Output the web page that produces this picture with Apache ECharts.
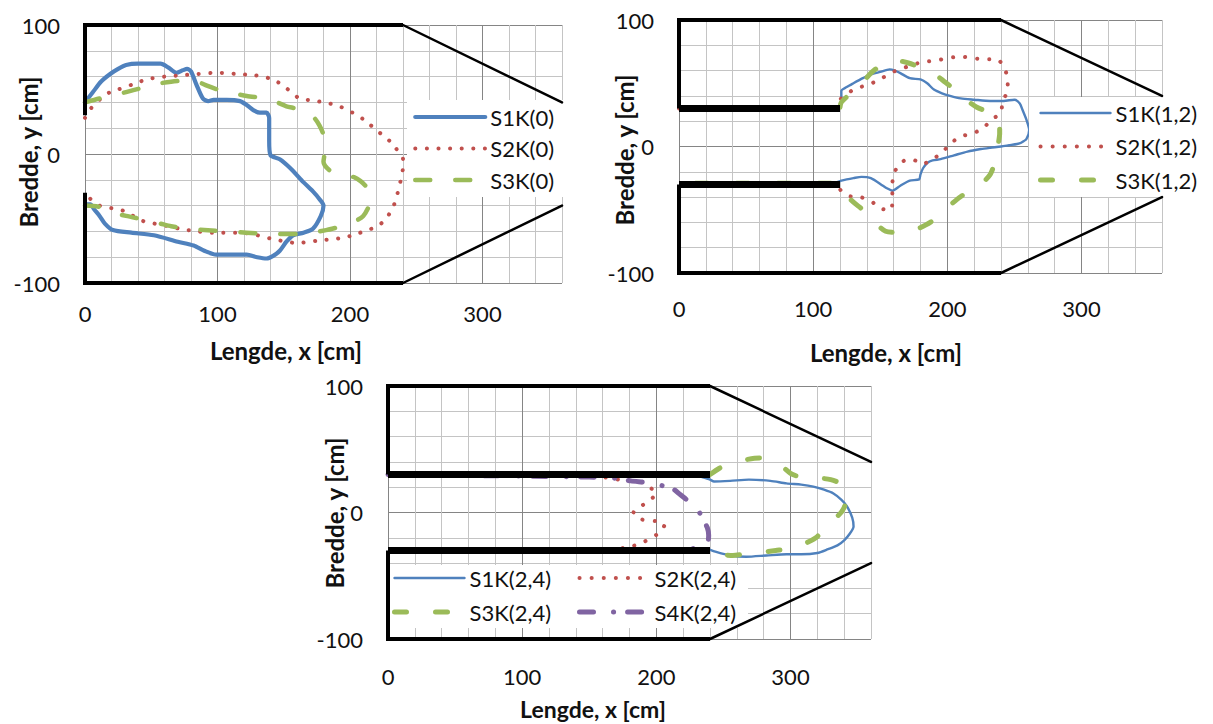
<!DOCTYPE html>
<html><head><meta charset="utf-8">
<script src="https://cdn.jsdelivr.net/npm/echarts@6/dist/echarts.min.js"></script>
<style>html,body{margin:0;padding:0;background:#fff}#c{width:1213px;height:724px}</style>
</head><body><div id="c"></div>
<script>
// ---- tick labels ----
const xTicks = [0, 100, 200, 300];
const yTicks = [-100, 0, 100];

// ---- panel 1 : S?K(0) ----
const s1k0 = [[0,40],[6,48],[12,56],[19,62],[25,66],[31,69],[40,70],[50,70],[57,70],[63,67],[69,63],[74,65],[77,66],[80,64],[84,54],[89,43],[93,41],[97,42],[107,42],[117,41],[122,38],[127,34],[132,32],[137,32],[139,28],[139,10],[140,-1],[147,-4],[155,-11],[165,-22],[172,-29],[177,-35],[180,-40],[178,-48],[172,-58],[165,-61],[157,-63],[152,-68],[147,-75],[142,-79],[137,-81],[130,-80],[122,-78],[110,-78],[99,-78],[90,-75],[82,-71],[70,-68],[52,-63],[35,-61],[21,-59],[15,-54],[11,-48],[7,-43],[4,-39],[0,-39]];
const s2k0 = [[0,28],[5,36],[12,43],[19,48],[28,51],[36,54],[47,58],[60,60],[72,61],[85,62],[99,63],[115,62],[128,61],[135,60],[145,56],[152,51],[158,46],[162,43],[175,41],[185,39],[192,37],[202,32],[210,27],[216,22],[223,16],[230,10],[235,4],[240,-4],[240,-10],[239,-17],[236,-30],[233,-40],[228,-49],[221,-56],[213,-59],[205,-62],[195,-65],[177,-67],[160,-69],[142,-66],[130,-63],[117,-61],[97,-61],[85,-60],[72,-58],[58,-55],[44,-52],[29,-44],[20,-42],[11,-40],[3,-34],[0,-33]];
const s3k0 = [[0,40],[11,43],[20,45],[31,48],[42,51],[52,54],[65,56],[77,57],[85,56],[92,53],[100,50],[107,48],[122,45],[137,43],[145,40],[152,37],[160,35],[167,32],[173,28],[177,22],[180,15],[181,9],[181,2],[180,-6],[185,-13],[195,-16],[203,-18],[208,-21],[212,-25],[215,-30],[215,-37],[210,-48],[200,-54],[190,-57],[182,-59],[162,-62],[137,-62],[122,-61],[107,-60],[90,-59],[77,-58],[65,-56],[57,-54],[45,-51],[31,-48],[20,-45],[11,-41],[0,-40]];

// ---- panel 2 : S?K(1,2) ----
const s1k12 = [[120,32],[121,37],[121,44],[125,47],[130,50],[137,54],[143,57],[150,59],[157,61],[161,60],[165,58],[172,54],[180,53],[185,50],[190,45],[196,42],[202,40],[210,38],[220,37],[232,36],[242,36],[250,37],[254,34],[256,29],[259,21],[261,13],[259,6],[255,3],[252,2],[246,1],[240,0],[232,-1],[225,-2],[215,-4],[205,-7],[195,-10],[189,-11],[185,-13],[182,-17],[180,-22],[179,-26],[172,-27],[165,-31],[159,-35],[155,-33],[152,-31],[143,-25],[136,-24],[130,-25],[125,-26],[121,-27],[115,-29],[110,-30]];
const s2k12 = [[0,30],[118,30],[120,37],[125,41],[130,45],[141,49],[150,53],[157,58],[165,61],[175,65],[184,67],[192,68],[201,70],[210,71],[218,70],[227,69],[237,69],[242,63],[245,53],[245,45],[241,35],[240,27],[233,21],[226,14],[218,10],[210,8],[202,2],[196,-5],[189,-10],[181,-14],[176,-11],[172,-10],[165,-13],[160,-22],[159,-31],[159,-41],[158,-50],[150,-49],[143,-43],[135,-40],[126,-39],[120,-34]];
const s3k12 = [[120,31],[121,35],[130,44],[137,51],[143,58],[150,64],[154,66],[162,68],[171,66],[184,61],[191,57],[197,52],[203,47],[208,41],[215,36],[222,31],[229,28],[235,24],[239,17],[239,10],[238,2],[237,-5],[235,-14],[232,-22],[225,-30],[215,-36],[207,-42],[196,-52],[190,-58],[184,-62],[178,-65],[171,-67],[162,-68],[154,-67],[148,-62],[143,-56],[137,-50],[130,-44],[121,-35],[118,-29],[0,-29]];

// ---- panel 3 : S?K(2,4) ----
const s1k24 = [[234,28],[240,26],[243,24.5],[255,25],[269,26],[285,25],[297,23],[308,22],[317,20.5],[325,18],[332,15],[338,10],[342,5],[346,-4],[347,-11],[344,-17],[340,-22],[335,-26],[328,-29],[320,-32],[308,-33],[297,-33],[282,-34],[267,-35],[255,-34],[244,-31],[239,-29]];
const s2k24 = [[0,30],[140,29],[160,28],[172,26],[181,25],[189,24],[195,20],[200,15],[194,9],[186,3],[183,0],[188,-5],[194,-6.5],[200,-7],[206,-10],[204,-14],[201,-17],[193,-22],[184,-26],[176,-28],[165,-29]];
const s3k24 = [[240,30],[247,35],[253,38],[259,40],[268,42],[277,43],[285,41],[293,37],[300,31],[307,28],[315,27],[322,27],[330,26],[337,23],[341,17],[342,12],[340,4],[336,-2],[330,-6],[325,-12],[320,-19],[312,-24],[305,-27],[297,-29],[289,-30],[274,-32],[265,-33],[257,-34],[248,-33],[243,-31],[240,-30]];
const s4k24 = [[0,30],[150,28],[170,27],[181,25],[190,24],[198,23],[205,21],[212,19],[218,14],[225,8],[231,2],[235,-6],[238,-12],[239,-18],[238,-25],[234,-27],[225,-29]];

// ---- channel geometry ----
const wallTop = [[0,30],[0,100],[240,100]];
const wallBot = [[0,-30],[0,-100],[240,-100]];
const diagTop = [[240,100],[360,40]];
const diagBot = [[240,-100],[360,-40]];
const barsP2Top = [[0,30],[120,30]];
const barsP2Bot = [[0,-30],[120,-30]];
const barsP3Top = [[0,30],[240,30]];
const barsP3Bot = [[0,-30],[240,-30]];

const names1 = ['S1K(0)','S2K(0)','S3K(0)'];
const names2 = ['S1K(1,2)','S2K(1,2)','S3K(1,2)'];
const names3 = ['S1K(2,4)','S2K(2,4)','S3K(2,4)','S4K(2,4)'];

const BLUE='#4F81BD', RED='#C0504D', GREEN='#9BBB59', PURPLE='#8064A2';
const FONT='Lato';
const TXT='#111';
const MAJOR='#858585', MINOR='#c4c4c4';
const FS=22;

function curve(name, data, gi, color, width, type){
  return {type:'line', name, data, xAxisIndex:gi, yAxisIndex:gi, symbol:'none', smooth:0.25,
    color, silent:true, animation:false, z:2,
    lineStyle:{color, width, type: type||'solid', cap:'round', join:'round'}};
}
function wall(data, gi, width, cap){
  return {type:'line', data, xAxisIndex:gi, yAxisIndex:gi, symbol:'none', silent:true, animation:false,
    clip:false, z:5, lineStyle:{color:'#000', width, cap:cap||'butt', join:'miter'}};
}
const grids = [
  {left:85, top:25, width:477, height:258},
  {left:679, top:20, width:483, height:253},
  {left:388, top:386, width:483, height:253}
];
const xMargins=[19,24,26];
const gridCols = [MAJOR, MINOR, MINOR, MINOR, MINOR];
const xAxes = grids.map((g,i)=>({type:'value', gridIndex:i, min:0, max:360, interval:20,
  axisLine:{show:false}, axisTick:{show:false},
  splitLine:{show:true, lineStyle:{color:gridCols, width:1}},
  axisLabel:{margin:xMargins[i], fontSize:FS, fontFamily:FONT, color:TXT,
    formatter:v=> xTicks.includes(v)? String(v):''}}));
const yAxes = grids.map((g,i)=>({type:'value', gridIndex:i, min:-100, max:100, interval:20,
  axisLine:{show:false}, axisTick:{show:false},
  splitLine:{show:true, lineStyle:{color:gridCols, width:1}},
  axisLabel:{margin:25, fontSize:FS, fontFamily:FONT, color:TXT,
    formatter:v=> yTicks.includes(v)? String(v):''}}));

const series = [
  curve(names1[0], s1k0, 0, BLUE, 4.2),
  curve(names1[1], s2k0, 0, RED, 4, [0.1, 11.5]),
  curve(names1[2], s3k0, 0, GREEN, 4.5, [15, 25]),
  curve(names2[0], s1k12, 1, BLUE, 2.4),
  curve(names2[1], s2k12, 1, RED, 4, [0.1, 12]),
  curve(names2[2], s3k12, 1, GREEN, 5, [12, 29]),
  curve(names3[0], s1k24, 2, BLUE, 2.4),
  curve(names3[1], s2k24, 2, RED, 4, [0.1, 12]),
  curve(names3[2], s3k24, 2, GREEN, 5, [12, 29]),
  curve(names3[3], s4k24, 2, PURPLE, 5, [14, 20, 0.1, 14]),
];
for (let i=0;i<3;i++){
  series.push(wall(wallTop,i,4), wall(wallBot,i,4), wall(diagTop,i,2.5,'round'), wall(diagBot,i,2.5,'round'));
}
series.push(wall(barsP2Top,1,7), wall(barsP2Bot,1,7), wall(barsP3Top,2,7), wall(barsP3Bot,2,7));

function legend(data, left, top, padding, gap){
  return {data, orient:'vertical', left, top, padding, itemGap:gap, itemWidth:70, itemHeight:22,
    backgroundColor:'#fff', selectedMode:false, z:4,
    itemStyle:{opacity:0},
    lineStyle:{width:'inherit'},
    textStyle:{fontSize:FS, fontFamily:FONT, color:TXT, lineHeight:22}};
}
const legends = [
  legend(names1, 407, 100, [6,9,6,6], 9.5),
  legend(names2, 1029, 97, [5,6,6,9], 11.5),
  legend([names3[0],names3[2]], 390, 565, [2,22,5,2], 12),
  legend([names3[1],names3[3]], 573, 565, [2,12,5,4], 12)
];

function title(text, x, y, rot, fs){
  return {type:'text', x, y, rotation: rot||0, silent:true,
    style:{text, fill:TXT, fontSize:fs||24, fontWeight:'bold', fontFamily:FONT, textAlign:'center', textVerticalAlign:'middle', verticalAlign:'middle'}};
}
const graphic = [
  title('Lengde, x [cm]', 286, 350), title('Lengde, x [cm]', 886, 352), title('Lengde, x [cm]', 593, 709, 0, 23),
  title('Bredde, y [cm]', 28, 152, Math.PI/2), title('Bredde, y [cm]', 624, 150, Math.PI/2), title('Bredde, y [cm]', 334, 513, Math.PI/2)
];

const chart = echarts.init(document.getElementById('c'), null, {renderer:'svg'});
chart.setOption({
  animation:false, backgroundColor:'#fff',
  grid: grids.map(g=>Object.assign({show:false, outerBoundsMode:'none', containLabel:false}, g)),
  xAxis:xAxes, yAxis:yAxes, legend:legends, series, graphic
});
</script></body></html>
